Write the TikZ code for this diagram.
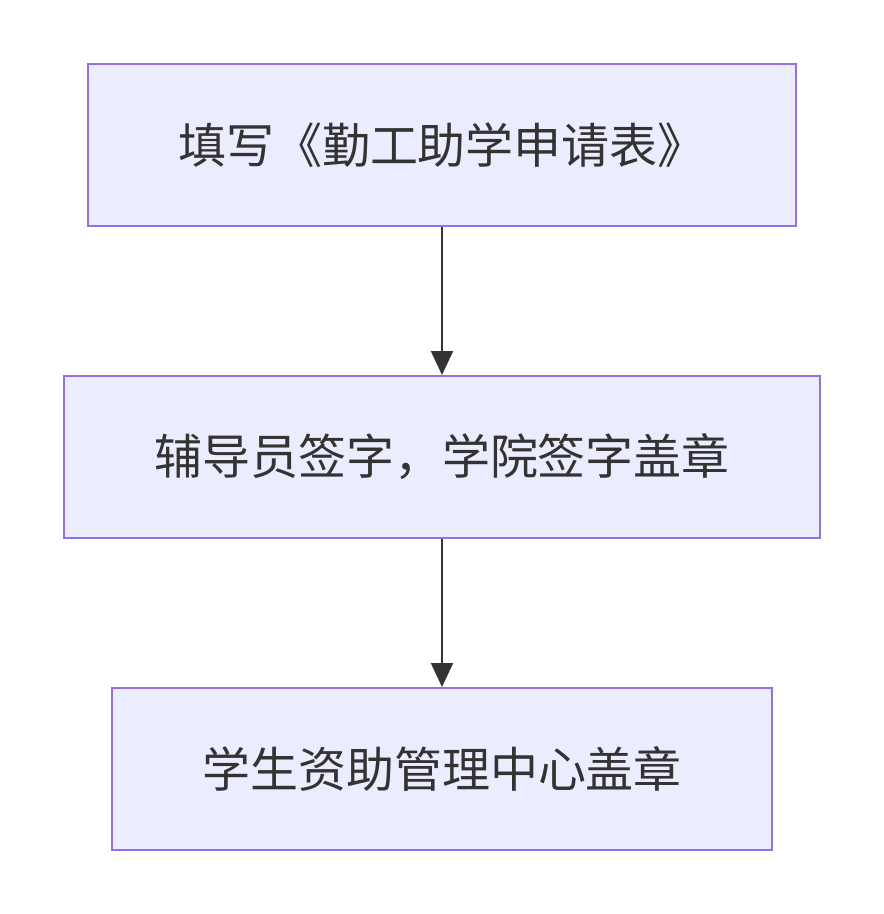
\documentclass[tikz,border=0pt]{standalone}
\usepackage{fontspec}
\newfontfamily\cjk{Noto Sans CJK SC}
\usetikzlibrary{positioning,arrows.meta}
\definecolor{boxfill}{HTML}{ECECFF}
\definecolor{boxline}{HTML}{9370DB}
\definecolor{ink}{HTML}{333333}

\begin{document}
\begin{tikzpicture}[x=1pt, y=-1pt,
    stepbox/.style={draw=boxline, fill=boxfill, line width=2pt, minimum height=162pt,
        font=\cjk\fontsize{48}{56}\selectfont, text=ink, inner sep=0pt},
    flow/.style={draw=ink, line width=2pt, -{Triangle[length=24pt, width=22pt]}}]
    \useasboundingbox (0,0) rectangle (884,914);
    \node[stepbox, minimum width=708pt] (apply) at (442,145) {填写《勤工助学申请表》};
    \node[stepbox, minimum width=756pt] (sign) at (442,457) {辅导员签字，学院签字盖章};
    \node[stepbox, minimum width=660pt] (seal) at (442,769) {学生资助管理中心盖章};
    \draw[flow] (apply) -- (sign);
    \draw[flow] (sign) -- (seal);
\end{tikzpicture}
\end{document}
